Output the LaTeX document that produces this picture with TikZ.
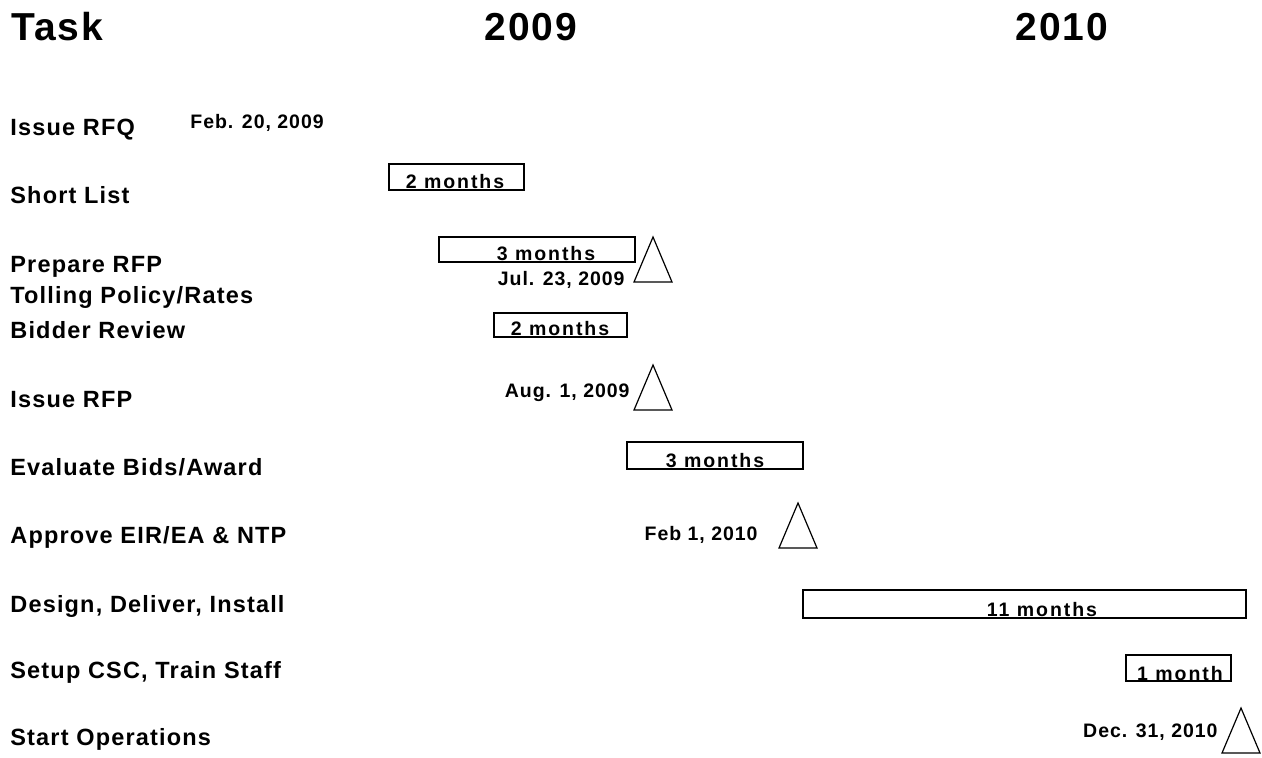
\documentclass[tikz,border=0pt]{standalone}
\usepackage{fontspec}
\setmainfont{Liberation Sans}
\newfontfamily\chartfont[LetterSpace=5]{Liberation Sans}
\newfontfamily\barfont[LetterSpace=10]{Liberation Sans}
\begin{document}
\begin{tikzpicture}[x=.5pt,y=-.5pt,
  head/.style={inner sep=0,font=\chartfont\bfseries\fontsize{19.5}{22}\selectfont},
  task/.style={anchor=base west,inner sep=0,font=\chartfont\bfseries\fontsize{11.75}{14}\selectfont},
  when/.style={inner sep=0,font=\chartfont\bfseries\fontsize{9.75}{12}\selectfont},
  span/.style={inner sep=0,anchor=base,font=\barfont\bfseries\fontsize{9.75}{12}\selectfont},
  bar/.style={draw,line width=.9pt},
  mile/.style={draw,line width=.6pt,line join=miter}]
\useasboundingbox (0,0) rectangle (1262,757);

\node[head,anchor=base west] at (11,40)(task){Task};
\node[head,anchor=base] at (531,40)(y2009){2009};
\node[head,anchor=base] at (1062,40)(y2010){2010};

\foreach \n/\y/\t in {rfq/135/Issue RFQ, short/203/Short List, prep/272/Prepare RFP, toll/303/{Tolling Policy/Rates}, bid/338/Bidder Review, rfp/407/Issue RFP, eval/475/{Evaluate Bids/Award}, eir/543/{Approve EIR/EA \& NTP}, des/612/{Design, Deliver, Install}, csc/678/{Setup CSC, Train Staff}, ops/745/Start Operations}{
    \node[task] at (10,\y)(task-\n){\t};
}

\node[when,anchor=base west] at (190,128)(date-rfq){Feb. 20, 2009};

\foreach \n/\xa/\ya/\xb/\yb/\tx/\ty/\d in {
short/389/164/524/190/455/188/2 months,
prep/439/237/635/262/546/260/3 months,
bid/494/313/627/337/560/335/2 months,
eval/627/442/803/469/715/467/3 months,
des/803/590/1246/618/1042/616/11 months,
csc/1126/655/1231/681/1180/680/1 month}{
    \draw[bar] (\xa,\ya) rectangle (\xb,\yb);
    \node[span] at (\tx,\ty)(dur-\n){\d};
}

\foreach \n/\x/\y/\tx/\ty/\d in {
prep/653/237/625/285/{Jul. 23, 2009},
rfp/653/365/630/397/{Aug. 1, 2009},
eir/798/503/758/540/{Feb 1, 2010},
ops/1241/708/1218/737/{Dec. 31, 2010}}{
    \draw[mile] (\x,\y) -- (\x+19,\y+45) -- (\x-19,\y+45) -- cycle;
    \node[when,anchor=base east] at (\tx,\ty)(date-\n){\d};
}
\end{tikzpicture}
\end{document}
